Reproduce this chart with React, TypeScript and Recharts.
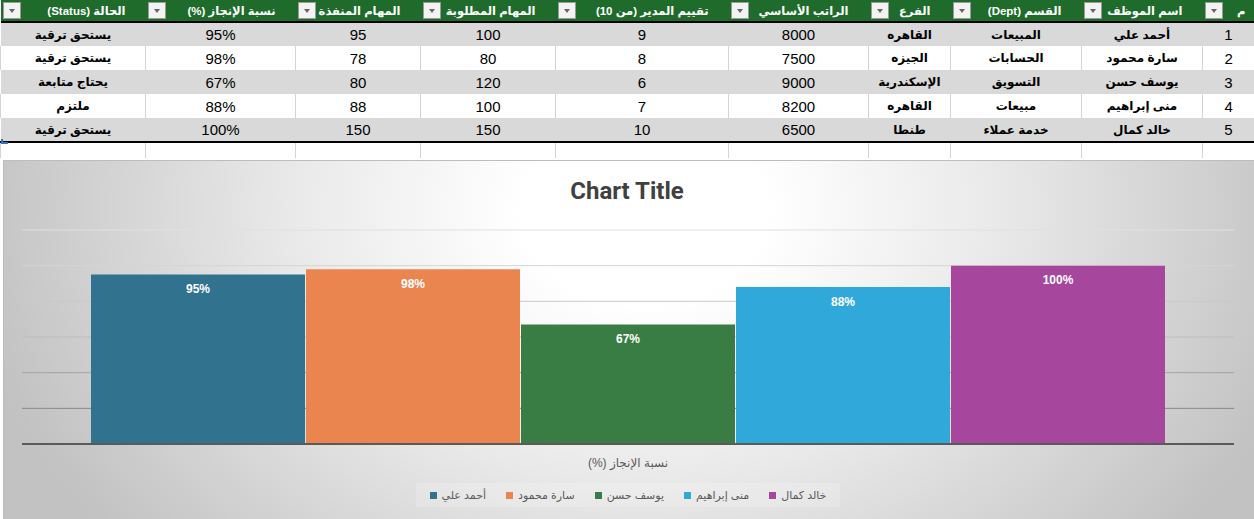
import React from 'react';
import { BarChart, Bar, XAxis, YAxis, CartesianGrid, Legend, LabelList } from 'recharts';

// table data
const ids = [1, 2, 3, 4, 5];
const names = ['أحمد علي', 'سارة محمود', 'يوسف حسن', 'منى إبراهيم', 'خالد كمال'];
const depts = ['المبيعات', 'الحسابات', 'التسويق', 'مبيعات', 'خدمة عملاء'];
const branches = ['القاهره', 'الجيزه', 'الإسكندرية', 'القاهره', 'طنطا'];
const salaries = [8000, 7500, 9000, 8200, 6500];
const ratings = [9, 8, 6, 7, 10];
const tasksRequired = [100, 80, 120, 100, 150];
const tasksDone = [95, 78, 80, 88, 150];
const completion = [0.95, 0.98, 0.67, 0.88, 1.0];
const statuses = ['يستحق ترقية', 'يستحق ترقية', 'يحتاج متابعة', 'ملتزم', 'يستحق ترقية'];
const headers = ['م', 'اسم الموظف', 'القسم (Dept)', 'الفرع', 'الراتب الأساسي', 'تقييم المدير (من 10)', 'المهام المطلوبة', 'المهام المنفذة', 'نسبة الإنجاز (%)', 'الحالة (Status)'];

// chart data
const categoryLabel = 'نسبة الإنجاز (%)';
const yTicks = [0, 0.2, 0.4, 0.6, 0.8, 1, 1.2];
const barColors = ['#31728f', '#ea854f', '#3a7d44', '#30a9da', '#a6479d'];

const colWidths = [52, 121, 131, 82, 140, 173, 135, 125, 150, 145];
const font = '"Liberation Sans", "DejaVu Sans", Arial, sans-serif';

const chartRow: Record<string, string | number> = { name: categoryLabel };
names.forEach((n, i) => {
  chartRow[n] = completion[i];
});
const chartData = [chartRow];

const pct = (v: number) => `${Math.round(v * 100)}%`;

function Dropdown() {
  return (
    <div style={{
      position: 'absolute', left: 2, top: 2, width: 18, height: 17,
      background: '#f3f3f3', border: '1px solid #9a9a9a', boxSizing: 'border-box'
    }}>
      <div style={{
        position: 'absolute', left: 5, top: 6, width: 0, height: 0,
        borderLeft: '3.5px solid transparent', borderRight: '3.5px solid transparent',
        borderTop: '4px solid #666'
      }} />
    </div>
  );
}

function SheetTable() {
  const rows = ids.map((id, i) => [
    String(id), names[i], depts[i], branches[i], String(salaries[i]), String(ratings[i]),
    String(tasksRequired[i]), String(tasksDone[i]), pct(completion[i]), statuses[i]
  ]);
  return (
    <table dir="rtl" style={{
      position: 'absolute', top: 0, left: 0, width: 1254, borderCollapse: 'collapse',
      tableLayout: 'fixed', fontFamily: font
    }}>
      <colgroup>
        {colWidths.map((w, i) => <col key={i} style={{ width: w }} />)}
      </colgroup>
      <tbody>
        <tr style={{ height: 22 }}>
          {headers.map((h, i) => (
            <td key={i} style={{
              position: 'relative', background: '#1e6b2b', color: '#fff', fontWeight: 'bold',
              fontSize: 11.5, textAlign: 'right', padding: 0, paddingRight: i === 0 ? 9 : 20,
              borderBottom: '2px solid #000', whiteSpace: 'nowrap', overflow: 'hidden'
            }}>
              <Dropdown />
              {h}
            </td>
          ))}
        </tr>
        {rows.map((r, ri) => (
          <tr key={ri} style={{ height: 24, background: ri % 2 === 0 ? '#d9d9d9' : '#fff' }}>
            {r.map((c, ci) => {
              const isNum = /^[0-9%]+$/.test(c);
              return (
                <td key={ci} style={{
                  padding: 0, textAlign: 'center', color: '#000', whiteSpace: 'nowrap',
                  fontSize: isNum ? 15 : 12, fontWeight: isNum ? 'normal' : 'bold',
                  borderLeft: ri % 2 === 1 ? '1px solid #d4d4d4' : 'none',
                  borderBottom: ri === rows.length - 1 ? '2px solid #000' : 'none'
                }}>{c}</td>
              );
            })}
          </tr>
        ))}
        <tr style={{ height: 16 }}>
          {colWidths.map((_, i) => (
            <td key={i} style={{ padding: 0, borderLeft: '1px solid #d4d4d4' }} />
          ))}
        </tr>
      </tbody>
    </table>
  );
}

function LegendContent() {
  return (
    <div style={{ display: 'flex', justifyContent: 'center' }}>
      <div style={{
        display: 'flex', alignItems: 'center', gap: 20, padding: '4px 14px',
        background: 'rgba(255,255,255,0.18)', height: 16
      }}>
        {names.map((n, i) => (
          <div key={n} style={{ display: 'flex', alignItems: 'center' }}>
            <span style={{ width: 7, height: 7, background: barColors[i], display: 'inline-block', marginRight: 5 }} />
            <span style={{ fontSize: 11, color: '#595959', fontFamily: font }}>{n}</span>
          </div>
        ))}
      </div>
    </div>
  );
}

function CategoryTick(props: any) {
  const { x, y, payload } = props;
  return (
    <text x={x} y={y + 12} textAnchor="middle" direction="rtl" fill="#595959" fontSize={12} fontFamily={font}
      style={{ direction: 'rtl', unicodeBidi: 'embed' } as any}>
      {payload.value}
    </text>
  );
}

export default function App() {
  return (
    <div style={{ position: 'absolute', top: 0, left: 0, width: 1254, height: 519, overflow: 'hidden', background: '#fff' }}>
      <SheetTable />
      <div style={{ position: 'absolute', left: 1, top: 139, width: 5, height: 3, borderLeft: '2px solid #2e75c8', borderBottom: '2px solid #2e75c8' }} />
      <div style={{ position: 'absolute', top: 160, left: 0, width: 1254, height: 359 }}>
        <div style={{
          position: 'absolute', left: 3, top: 0, right: 0, bottom: 0,
          borderTop: '1px solid #bdbdbd', borderLeft: '1px solid #bdbdbd',
          background: 'radial-gradient(ellipse 680px 520px at 640px 50px, #ffffff 0%, #ffffff 18%, #e9e9e9 52%, #c2c2c2 100%)'
        }} />
        <div style={{
          position: 'absolute', top: 17, left: 0, width: 1254, textAlign: 'center',
          fontFamily: 'Roboto, "Liberation Sans", sans-serif', fontWeight: 'bold', fontSize: 24, color: '#404040'
        }}>Chart Title</div>
        <div style={{ position: 'absolute', top: 0, left: 0 }}>
          <BarChart width={1254} height={359} data={chartData}
            margin={{ top: 70, right: 20, bottom: 12, left: 22 }}
            barCategoryGap={69} barGap={1}>
            <defs>
              <linearGradient id="gridGrad" gradientUnits="userSpaceOnUse" x1="0" y1="70" x2="0" y2="284">
                <stop offset="0" stopColor="#e0e0e0" />
                <stop offset="0.5" stopColor="#bdbdbd" />
                <stop offset="1" stopColor="#6c6c6c" />
              </linearGradient>
            </defs>
            <CartesianGrid vertical={false} stroke="url(#gridGrad)" />
            <YAxis hide domain={[0, 1.2]} ticks={yTicks} />
            <XAxis dataKey="name" height={39} tickLine={false} tickMargin={5}
              axisLine={{ stroke: '#5a5a5a', strokeWidth: 2 }}
              tick={<CategoryTick />} />
            <Legend verticalAlign="bottom" height={24} content={<LegendContent />} />
            {names.map((n, i) => (
              <Bar key={n} dataKey={n} fill={barColors[i]} isAnimationActive={false}>
                <LabelList dataKey={n} position="insideTop" offset={10} formatter={(v: any) => pct(Number(v))}
                  fill="#fff" fontSize={12} fontWeight="bold" fontFamily={font} />
              </Bar>
            ))}
          </BarChart>
        </div>
      </div>
    </div>
  );
}
